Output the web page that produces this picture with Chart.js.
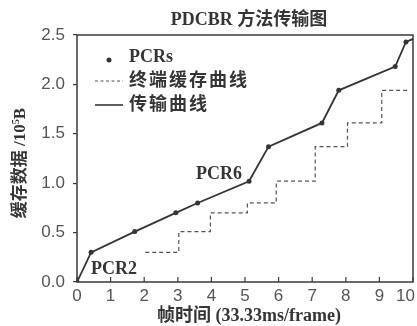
<!DOCTYPE html>
<html>
<head>
<meta charset="utf-8">
<script src="https://cdn.jsdelivr.net/npm/chart.js@4/dist/chart.umd.min.js"></script>
<style>
  html, body { margin: 0; padding: 0; background: #fff; }
  #wrap { width: 417px; height: 326px; }
</style>
</head>
<body>
<div id="wrap"><canvas id="c" width="417" height="326"></canvas></div>
<script>
// PCR sample instants (frame time) and cumulative data sent (10^5 B)
const pcrTimes  = [0, 0.42, 1.72, 2.94, 3.59, 5.12, 5.70, 7.29, 7.79, 9.47, 9.79];
const pcrValues = [0, 0.30, 0.51, 0.70, 0.80, 1.02, 1.37, 1.61, 1.94, 2.18, 2.43];

// transmission curve runs through the PCRs and on to the frame-10 edge
const sendTimes  = [...pcrTimes, 10];
const sendValues = [...pcrValues, 2.46];

// terminal buffer curve (step function)
const bufferTimes  = [2.03, 3.03, 3.97, 5.07, 5.93, 7.09, 8.05, 9.07, 9.9];
const bufferValues = [0.30, 0.51, 0.70, 0.80, 1.02, 1.37, 1.61, 1.94, 1.94];

const xTicks = [0, 1, 2, 3, 4, 5, 6, 7, 8, 9, 10];
const yTicks = [0, 0.5, 1.0, 1.5, 2.0, 2.5];

const seriesNames = ['PCRs', '终端缓存曲线', '传输曲线'];
const chartTitle = 'PDCBR 方法传输图';
const xTitle = '帧时间 (33.33ms/frame)';
const annotations = [
  { text: 'PCR6', index: 5, dx: -7, dy: -2, align: 'right' },
  { text: 'PCR2', index: 1, dx: 0, dy: 22, align: 'left' }
];

const pts = (xs, ys) => xs.map((x, i) => ({ x, y: ys[i] }));

const INK = '#353535';
const SERIF = "'Liberation Serif', 'Noto Sans CJK SC', serif";
const SANS = "'Liberation Sans', Arial, sans-serif";

const decor = {
  id: 'decor',
  afterDraw(chart) {
    const { ctx, chartArea: a, scales } = chart;
    const xs = scales.x, ys = scales.y;
    ctx.save();

    // plot frame
    ctx.strokeStyle = '#3a3a3a';
    ctx.lineWidth = 1.5;
    ctx.strokeRect(a.left, a.top, a.right - a.left, a.bottom - a.top);

    // inward x tick marks and labels
    ctx.lineWidth = 1.2;
    ctx.font = '17px ' + SANS;
    ctx.fillStyle = '#555';
    ctx.textBaseline = 'top';
    xTicks.forEach(v => {
      const px = xs.getPixelForValue(v);
      ctx.beginPath();
      ctx.moveTo(px, a.bottom);
      ctx.lineTo(px, a.bottom - 5);
      ctx.stroke();
      const label = String(v);
      const w = ctx.measureText(label).width;
      let lx = px - w / 2;
      if (lx + w > chart.width - 2) lx = chart.width - 2 - w;
      ctx.textAlign = 'left';
      ctx.fillText(label, lx, a.bottom + 6);
    });

    // chart title
    ctx.fillStyle = INK;
    ctx.textAlign = 'center';
    ctx.textBaseline = 'middle';
    ctx.font = 'bold 18px ' + SERIF;
    ctx.fillText(chartTitle, 249, 20);

    // x axis title
    ctx.font = 'bold 18px ' + SERIF;
    ctx.fillText(xTitle, 249, 316);

    // y axis title, rotated, with superscript exponent
    ctx.save();
    ctx.translate(21, 163);
    ctx.rotate(-Math.PI / 2);
    ctx.textAlign = 'left';
    ctx.textBaseline = 'middle';
    const partA = '缓存数据 /10', partSup = '5', partB = 'B';
    ctx.font = 'bold 17px ' + SERIF;
    const wA = ctx.measureText(partA).width;
    const wB = ctx.measureText(partB).width;
    ctx.font = 'bold 10px ' + SERIF;
    const wS = ctx.measureText(partSup).width;
    let sx = -(wA + wS + wB) / 2;
    ctx.font = 'bold 17px ' + SERIF;
    ctx.fillText(partA, sx, 0);
    sx += wA;
    ctx.font = 'bold 10px ' + SERIF;
    ctx.fillText(partSup, sx, -5);
    sx += wS;
    ctx.font = 'bold 17px ' + SERIF;
    ctx.fillText(partB, sx, 0);
    ctx.restore();

    // legend
    ctx.fillStyle = INK;
    ctx.beginPath();
    ctx.arc(109, 60, 2.5, 0, Math.PI * 2);
    ctx.fill();
    ctx.strokeStyle = '#555';
    ctx.lineWidth = 1.2;
    ctx.setLineDash([3, 2.5]);
    ctx.beginPath();
    ctx.moveTo(95, 81); ctx.lineTo(123, 81);
    ctx.stroke();
    ctx.setLineDash([]);
    ctx.strokeStyle = INK;
    ctx.lineWidth = 1.6;
    ctx.beginPath();
    ctx.moveTo(95, 105); ctx.lineTo(123, 105);
    ctx.stroke();
    ctx.textAlign = 'left';
    ctx.textBaseline = 'middle';
    ctx.font = 'bold 18px ' + SERIF;
    ctx.fillText(seriesNames[0], 129, 57);
    ctx.letterSpacing = '2px';
    ctx.fillText(seriesNames[1], 129, 81);
    ctx.fillText(seriesNames[2], 129, 105);
    ctx.letterSpacing = '0px';

    // PCR callouts
    ctx.font = 'bold 18px ' + SERIF;
    ctx.textBaseline = 'alphabetic';
    annotations.forEach(an => {
      const px = xs.getPixelForValue(pcrTimes[an.index]);
      const py = ys.getPixelForValue(pcrValues[an.index]);
      ctx.textAlign = an.align;
      ctx.fillText(an.text, px + an.dx, py + an.dy);
    });

    ctx.restore();
  }
};

new Chart(document.getElementById('c'), {
  type: 'scatter',
  data: {
    datasets: [
      {
        label: seriesNames[0],
        data: pts(pcrTimes, pcrValues),
        showLine: false,
        pointRadius: 2.5,
        pointBackgroundColor: INK,
        pointBorderWidth: 0,
        order: 0
      },
      {
        label: seriesNames[1],
        data: pts(bufferTimes, bufferValues),
        showLine: true,
        stepped: 'before',
        borderColor: '#555',
        borderWidth: 1.2,
        borderDash: [4, 3],
        pointRadius: 0,
        order: 2
      },
      {
        label: seriesNames[2],
        data: pts(sendTimes, sendValues),
        showLine: true,
        borderColor: INK,
        borderWidth: 1.8,
        pointRadius: 0,
        order: 1
      }
    ]
  },
  options: {
    responsive: false,
    animation: false,
    devicePixelRatio: 1,
    layout: { padding: { top: 35, right: 4, left: 0, bottom: 0 } },
    plugins: { legend: { display: false }, tooltip: { enabled: false }, title: { display: false } },
    scales: {
      x: {
        type: 'linear',
        min: 0, max: 10,
        afterBuildTicks(s) { s.ticks = xTicks.map(v => ({ value: v })); },
        ticks: { display: false },
        grid: { display: false },
        border: { display: false },
        afterFit(s) { s.height = 44; }
      },
      y: {
        type: 'linear',
        min: 0, max: 2.5,
        afterBuildTicks(s) { s.ticks = yTicks.map(v => ({ value: v })); },
        ticks: {
          padding: 8,
          color: '#555',
          font: { family: SANS, size: 17 },
          callback: v => Number(v).toFixed(1)
        },
        grid: { drawOnChartArea: false, tickLength: 4, color: '#3a3a3a', lineWidth: 1.2 },
        border: { display: false },
        afterFit(s) { s.width = 77; }
      }
    }
  },
  plugins: [decor]
});
</script>
</body>
</html>
